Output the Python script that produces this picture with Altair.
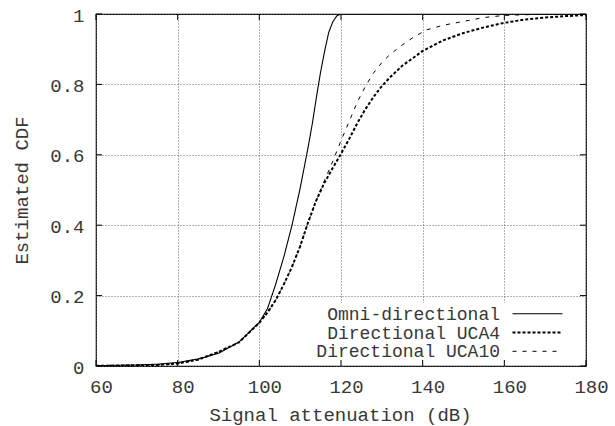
import altair as alt
import pandas as pd

# ---- data ----
series_names = ["Omni-directional", "Directional UCA4", "Directional UCA10"]

omni_x = [60, 65, 70, 75, 80, 85, 90, 95, 100, 102, 104, 106, 108, 110, 111, 112,
          113, 114, 115, 116, 117, 118, 119, 120, 180]
omni_y = [0.001, 0.002, 0.003, 0.005, 0.010, 0.020, 0.036, 0.068, 0.124, 0.163, 0.232,
          0.31, 0.40, 0.505, 0.565, 0.625, 0.69, 0.765, 0.835, 0.895, 0.948, 0.978,
          0.995, 1.0, 1.0]

uca4_x = [60, 65, 70, 75, 80, 85, 90, 95, 100, 102, 104, 106, 108, 110, 112, 114, 116,
          118, 120, 122, 124, 126, 128, 130, 132, 135, 138, 140, 145, 150, 155, 160,
          165, 170, 175, 180]
uca4_y = [0.0005, 0.001, 0.002, 0.003, 0.007, 0.018, 0.040, 0.067, 0.123, 0.152, 0.187,
          0.232, 0.282, 0.34, 0.41, 0.472, 0.522, 0.563, 0.603, 0.645, 0.69, 0.73,
          0.765, 0.795, 0.82, 0.853, 0.878, 0.895, 0.925, 0.946, 0.962, 0.975, 0.984,
          0.99, 0.994, 0.997]

uca10_x = [60, 65, 70, 75, 80, 85, 90, 95, 100, 102, 104, 106, 108, 110, 112, 114, 116,
           118, 120, 122, 124, 126, 128, 130, 132, 135, 138, 141, 145, 150, 155, 160,
           165, 170, 180]
uca10_y = [0.0005, 0.001, 0.002, 0.003, 0.007, 0.018, 0.040, 0.067, 0.123, 0.152, 0.187,
           0.232, 0.282, 0.34, 0.41, 0.472, 0.528, 0.582, 0.64, 0.695, 0.75, 0.795,
           0.833, 0.862, 0.885, 0.912, 0.936, 0.955, 0.968, 0.979, 0.99, 0.996, 0.998,
           0.999, 1.0]

x_ticks = [60, 80, 100, 120, 140, 160, 180]
y_ticks = [0, 0.2, 0.4, 0.6, 0.8, 1]

x_title = "Signal attenuation (dB)"
y_title = "Estimated CDF"

FONT = "Liberation Mono"
FS = 19
LFS = 18
TXT = "#383838"
W, H = 490, 352

dash_styles = [[1, 0], [3, 2], [4, 6]]
width_styles = [1.1, 2.0, 1.0]

xscale = alt.Scale(domain=[60, 180], nice=False, zero=False)
yscale = alt.Scale(domain=[0, 1], nice=False)

x_axis = alt.Axis(values=x_ticks, title=x_title, tickSize=0, domain=False,
                  grid=True, gridDash=[1, 2], gridColor="#666", gridWidth=1,
                  labelFont=FONT, labelFontSize=FS, labelColor=TXT,
                  labelPadding=11, labelOffset=5, labelFlush=False,
                  titleFont=FONT, titleFontSize=FS, titleFontWeight="normal",
                  titleColor=TXT, titleBaseline="alphabetic",
                  titleX=W / 2 - 1, titleY=54)
y_axis = alt.Axis(values=y_ticks, format="~g", title=y_title, tickSize=0,
                  domain=False, grid=True, gridDash=[1, 2], gridColor="#666",
                  gridWidth=1, labelFont=FONT, labelFontSize=FS,
                  labelColor=TXT, labelPadding=12, labelOffset=1,
                  labelFlush=False,
                  titleFont=FONT, titleFontSize=FS, titleFontWeight="normal",
                  titleColor=TXT, titleBaseline="alphabetic",
                  titleX=-69, titleY=H / 2)

line_layers = []
for k, (name, xs, ys) in enumerate(zip(series_names, [omni_x, uca4_x, uca10_x],
                                       [omni_y, uca4_y, uca10_y])):
    d = pd.DataFrame({"x": xs, "y": ys, "series": name})
    enc = dict(
        x=alt.X("x:Q", scale=xscale, axis=x_axis if k == 0 else alt.Undefined),
        y=alt.Y("y:Q", scale=yscale, axis=y_axis if k == 0 else alt.Undefined),
    )
    line_layers.append(
        alt.Chart(d).mark_line(color="black", clip=True, strokeDash=dash_styles[k],
                               strokeWidth=width_styles[k]).encode(**enc)
    )

# legend (gnuplot style: label on the left, sample on the right, opaque box)
legend_box = alt.Chart(pd.DataFrame({"a": [0]})).mark_rect(color="white").encode(
    x=alt.value(209), x2=alt.value(480), y=alt.value(289), y2=alt.value(350.5)
)

legend_layers = []
row0, step = 299.7, 18.8
for i, name in enumerate(series_names):
    ypos = row0 + i * step
    t = alt.Chart(pd.DataFrame({"series": [name]})).mark_text(
        font=FONT, fontSize=LFS, align="right", baseline="alphabetic", color=TXT
    ).encode(text="series:N", x=alt.value(404), y=alt.value(ypos + 6))
    s = alt.Chart(pd.DataFrame({"series": [name]})).mark_rule(
        color="black", strokeDash=dash_styles[i], strokeWidth=width_styles[i]
    ).encode(x=alt.value(416.5), x2=alt.value(466.5), y=alt.value(ypos))
    legend_layers += [t, s]

# inward tick marks on all four sides
TL = 6
xt = pd.DataFrame({"x": x_ticks})
yt = pd.DataFrame({"y": y_ticks})
tick_b = alt.Chart(xt).mark_rule(color="black", strokeWidth=1).encode(
    x="x:Q", y=alt.datum(0), y2=alt.value(H - TL))
tick_t = alt.Chart(xt).mark_rule(color="black", strokeWidth=1).encode(
    x="x:Q", y=alt.datum(1), y2=alt.value(TL))
tick_l = alt.Chart(yt).mark_rule(color="black", strokeWidth=1).encode(
    y="y:Q", x=alt.datum(60), x2=alt.value(TL))
tick_r = alt.Chart(yt).mark_rule(color="black", strokeWidth=1).encode(
    y="y:Q", x=alt.datum(180), x2=alt.value(W - TL))

chart = alt.layer(*line_layers, legend_box, *legend_layers,
                  tick_b, tick_t, tick_l, tick_r).properties(
    width=W, height=H,
    autosize=alt.AutoSizeParams(type="none"),
    padding={"left": 96, "top": 14, "right": 29, "bottom": 60},
    background="white",
).configure_view(stroke="black", strokeWidth=1.2)

chart.save("out.html", embed_options={"renderer": "svg", "actions": False})
